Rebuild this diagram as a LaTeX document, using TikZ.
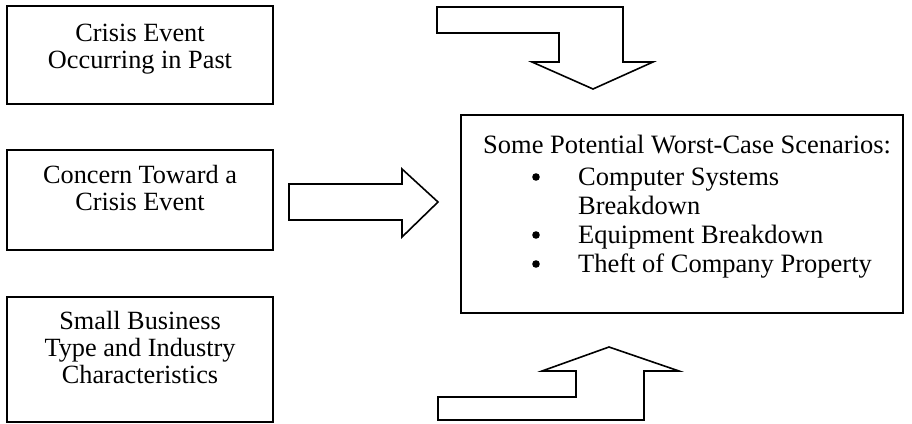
\documentclass[tikz,border=0pt]{standalone}
\usepackage{fontspec}
\setmainfont{Liberation Serif}
\usepackage{tikz}
\usetikzlibrary{positioning}
\tikzset{
  srcbox/.style={draw, line width=1.4pt, minimum width=266pt, inner sep=0pt},
  srctxt/.style={font=\fontsize{26.3}{27}\selectfont, align=center, inner sep=0pt},
  scntxt/.style={font=\fontsize{26.5}{29}\selectfont, anchor=base west, inner sep=0pt},
  fatarr/.style={draw, line width=1.6pt, line join=miter},
}

\begin{document}
\begin{tikzpicture}[x=1pt,y=-1pt]
  \useasboundingbox (0,0) rectangle (912,423);
%---------------- source boxes ----------------
  \node[srcbox, minimum height=98pt] (past) at (140,55) {};
  \node[srctxt, below=19pt of past.north] {Crisis Event\\Occurring in Past};
  \node[srcbox, minimum height=100pt] (concern) at (140,200) {};
  \node[srctxt, below=16pt of concern.north] {Concern Toward a\\Crisis Event};
  \node[srcbox, minimum height=125pt] (biz) at (140,359.5) {};
  \node[srctxt, below=15pt of biz.north] {Small Business\\Type and Industry\\Characteristics};
%---------------- scenario box ----------------
  \node[draw, line width=1.4pt, minimum width=442pt, minimum height=198pt] (scen) at (682,214) {};
  \node[scntxt] (head) at (483,153) {Some Potential Worst-Case Scenarios:};
  \foreach \yy/\txt in {185/Computer Systems, 243/Equipment Breakdown, 272/Theft of Company Property}{
    \fill (536,\yy-8) circle (3.8pt);
    \node[scntxt] at (578,\yy) {\txt};
  }
  \node[scntxt] at (578,214) {Breakdown};
%---------------- block arrows ----------------
  % bent arrow from the top
  \draw[fatarr] (437,7) -- (623,7) -- (623,62) -- (653,62) -- (593,89)
    -- (532,62) -- (559,62) -- (559,33) -- (437,33) -- cycle;
  % straight arrow from the middle box
  \draw[fatarr] (289,184) -- (402,184) -- (402,169) -- (438,202)
    -- (402,237) -- (402,220) -- (289,220) -- cycle;
  % bent arrow from below
  \draw[fatarr] (438,420) -- (644,420) -- (644,371) -- (679,371) -- (609,347)
    -- (542,371) -- (576,371) -- (576,397) -- (438,397) -- cycle;
\end{tikzpicture}
\end{document}
